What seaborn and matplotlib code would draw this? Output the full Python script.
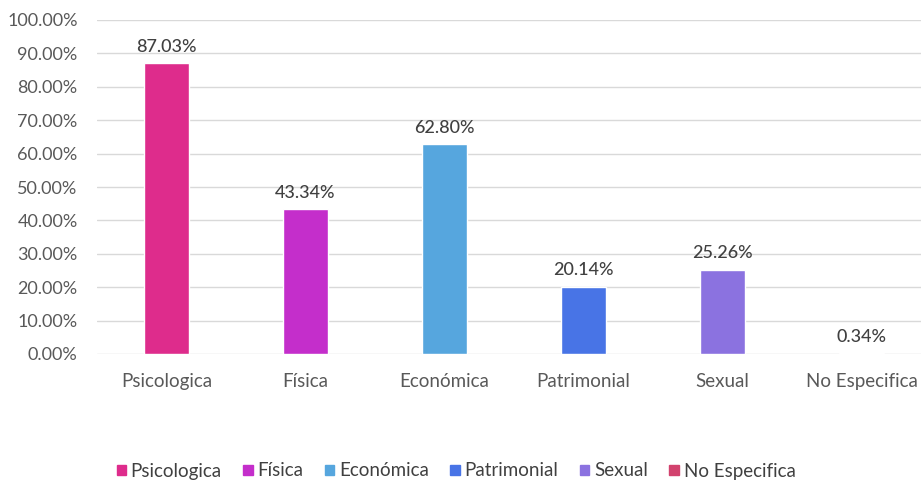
import matplotlib
matplotlib.use("Agg")
import matplotlib.pyplot as plt
import matplotlib.patches as mpatches
import seaborn as sns
import pandas as pd

categories = ["Psicologica", "Física", "Económica", "Patrimonial", "Sexual", "No Especifica"]
values = [87.03, 43.34, 62.80, 20.14, 25.26, 0.34]
colors = ["#DE2C8C", "#C42ECB", "#56A6DE", "#4874E6", "#8B72E0", "#D2426E"]
yticks = [0, 10, 20, 30, 40, 50, 60, 70, 80, 90, 100]

sns.set_theme(style="white")
plt.rcParams['font.family'] = ['Lato', 'DejaVu Sans']

df = pd.DataFrame({"cat": categories, "val": values})

fig = plt.figure(figsize=(9.21, 4.87), dpi=100)
ax = fig.add_axes([97/921, 133/487, 834/921, 334/487])

sns.barplot(data=df, x="cat", y="val", hue="cat", palette=colors,
            order=categories, hue_order=categories, dodge=False,
            width=0.32, legend=False, ax=ax, saturation=1)

ax.set_ylim(0, 100)
ax.set_xlim(-0.5, 5.5)
ax.set_yticks(yticks)
ax.set_yticklabels([f"{v:.2f}%" for v in yticks], color="#595959", fontsize=13)
ax.set_xticks(range(len(categories)))
ax.set_xticklabels(categories, color="#595959", fontsize=13.5)
ax.tick_params(axis="x", pad=14, length=0)
ax.tick_params(axis="y", pad=14, length=0)
ax.set_xlabel("")
ax.set_ylabel("")
ax.grid(axis="y", color="#D9D9D9", linewidth=1)
ax.set_axisbelow(True)
for s in ax.spines.values():
    s.set_visible(False)

for i, v in enumerate(values):
    ax.text(i, v + 2.5, f"{v:.2f}%", ha="center", va="bottom",
            fontsize=13, color="#404040", fontweight="medium")

handles = [mpatches.Patch(color=c, label=l) for c, l in zip(colors, categories)]
fig.legend(handles=handles, loc="center", bbox_to_anchor=(456/921, 1 - 471/487),
           ncol=6, frameon=False, fontsize=13.5, handlelength=0.5, handleheight=0.5,
           handletextpad=0.25, columnspacing=1.15, labelcolor="#404040")

fig.savefig("out.png", dpi=100)
